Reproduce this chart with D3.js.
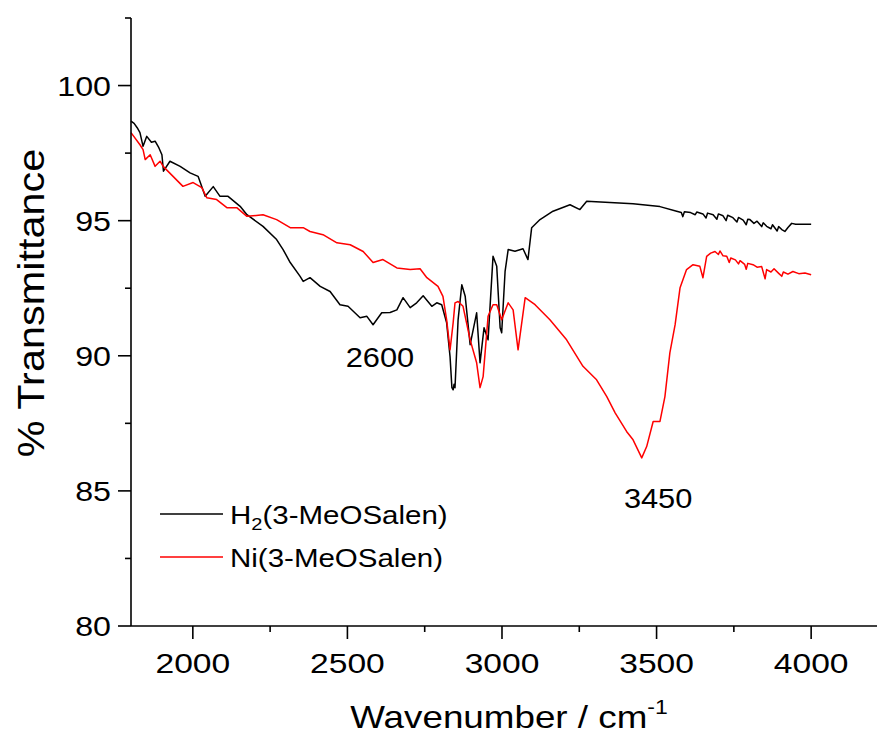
<!DOCTYPE html>
<html>
<head>
<meta charset="utf-8">
<script src="https://cdn.jsdelivr.net/npm/d3@7"></script>
<style>
  html, body { margin: 0; padding: 0; background: #fff; }
  text { font-family: "Liberation Sans", Arial, sans-serif; fill: #000; }
</style>
</head>
<body>
<svg id="chart" width="877" height="733"></svg>
<script>
// ---- data ----
const seriesNames = ["H2(3-MeOSalen)", "Ni(3-MeOSalen)"];
const seriesColors = ["#000000", "#ff0000"];

// H2(3-MeOSalen): [wavenumber, %T]
const h2Data = [
  [1800,98.68],[1810,98.60],[1820,98.44],[1829,98.26],[1839,97.75],[1851,98.12],[1866,97.90],[1878,97.94],
  [1890,97.70],[1900,97.44],[1905,96.83],[1926,97.20],[1959,97.01],[1991,96.77],[2017,96.64],[2040,95.90],
  [2066,96.26],[2088,95.90],[2114,95.90],[2153,95.53],[2175,95.22],[2227,94.79],[2271,94.30],
  [2292,93.93],[2315,93.45],[2347,92.94],[2357,92.75],[2379,92.89],[2412,92.57],[2444,92.38],
  [2476,91.89],[2502,91.83],[2541,91.41],[2563,91.46],[2583,91.15],[2611,91.59],[2638,91.60],
  [2660,91.70],[2680,92.15],[2703,91.78],[2724,91.96],[2745,92.22],[2773,91.83],[2789,91.96],
  [2805,91.89],[2821,91.22],[2832,89.97],[2838,88.82],[2842,88.74],[2845,88.95],[2848,88.82],
  [2858,91.33],[2870,92.63],[2881,92.20],[2897,90.41],[2918,91.59],[2929,89.74],[2942,91.04],
  [2955,90.59],[2971,93.68],[2983,93.31],[2994,91.04],[2999,90.85],[3010,93.12],[3020,93.93],
  [3042,93.87],[3068,93.96],[3084,93.56],[3096,94.74],[3123,95.04],[3165,95.35],[3220,95.59],
  [3252,95.41],[3274,95.72],[3349,95.67],[3424,95.63],[3511,95.52],[3565,95.35],[3580,95.30],
  [3585,95.15],[3590,95.33],[3610,95.30],[3625,95.22],[3630,95.32],[3650,95.25],[3660,95.10],
  [3665,95.28],[3683,95.22],[3695,95.05],[3700,95.25],[3715,95.18],[3725,95.00],[3730,95.20],
  [3747,95.11],[3760,94.95],[3765,95.12],[3780,95.02],[3790,94.85],[3795,95.05],[3802,95.04],
  [3815,94.90],[3825,94.98],[3840,94.78],[3845,94.92],[3856,94.79],[3870,94.70],[3875,94.85],
  [3890,94.62],[3895,94.78],[3905,94.67],[3915,94.60],[3925,94.75],[3937,94.90],[3950,94.87],
  [4000,94.87]
];

// Ni(3-MeOSalen): [wavenumber, %T]
const niData = [
  [1800,98.26],[1829,97.81],[1839,97.63],[1846,97.26],[1862,97.44],[1878,97.01],[1894,97.20],
  [1904,97.01],[1936,96.64],[1968,96.27],[2001,96.41],[2029,96.22],[2045,95.85],[2077,95.78],
  [2110,95.48],[2142,95.48],[2175,95.16],[2227,95.22],[2271,95.04],[2315,94.74],[2357,94.74],
  [2379,94.60],[2421,94.48],[2466,94.18],[2509,94.11],[2551,93.86],[2583,93.45],[2615,93.56],
  [2660,93.25],[2703,93.19],[2735,93.22],[2757,92.89],[2793,92.57],[2809,92.20],[2821,91.33],
  [2832,90.22],[2842,91.22],[2848,91.96],[2858,92.01],[2874,91.83],[2897,90.59],[2918,89.74],
  [2929,88.82],[2939,89.23],[2955,91.46],[2971,91.89],[2983,91.89],[2999,91.33],[3020,91.96],
  [3036,91.70],[3052,90.22],[3075,92.15],[3107,91.89],[3155,91.33],[3209,90.59],[3262,89.61],
  [3306,89.11],[3339,88.49],[3366,87.89],[3403,87.20],[3424,86.89],[3452,86.22],[3468,86.64],
  [3489,87.57],[3511,87.57],[3527,88.49],[3543,90.11],[3560,91.15],[3576,92.52],[3597,93.19],
  [3618,93.37],[3640,93.31],[3650,92.89],[3662,93.68],[3675,93.80],[3689,93.86],[3700,93.75],
  [3705,93.88],[3715,93.70],[3727,93.68],[3735,93.45],[3740,93.62],[3755,93.55],[3765,93.40],
  [3770,93.52],[3785,93.38],[3790,93.20],[3795,93.42],[3812,93.37],[3825,93.28],[3840,93.30],
  [3851,92.85],[3856,93.19],[3870,93.10],[3880,93.22],[3895,93.05],[3905,92.94],[3910,93.10],
  [3925,93.02],[3941,93.12],[3960,93.04],[3980,93.06],[4000,93.00]
];

const xMajorTicks = [2000, 2500, 3000, 3500, 4000];
const xMinorTicks = [2250, 2750, 3250, 3750];
const yMajorTicks = [80, 85, 90, 95, 100];
const yMinorTicks = [82.5, 87.5, 92.5, 97.5, 102.5];
const annotations = [{label: "2600", x: 2605, y: 89.58}, {label: "3450", x: 3505, y: 84.37}];

// ---- layout ----
const svg = d3.select("#chart");
const x = d3.scaleLinear().domain([1800, 4213]).range([131, 877]);
const y = d3.scaleLinear().domain([80, 102.5]).range([626, 18]);

function stretchedText(g, px, py, str, size, sx, anchor) {
  return g.append("g").attr("transform", `translate(${px},${py})`)
    .append("text")
    .attr("transform", `scale(${sx},1)`)
    .attr("text-anchor", anchor || "middle")
    .style("font-size", size + "px")
    .text(str);
}

// lines
const line = d3.line().x(d => x(d[0])).y(d => y(d[1]));
[h2Data, niData].forEach((data, i) => {
  svg.append("path").datum(data)
    .attr("fill", "none")
    .attr("stroke", seriesColors[i])
    .attr("stroke-width", 1.5)
    .attr("stroke-linejoin", "round")
    .attr("d", line);
});

// x axis
const xAxis = svg.append("g");
xAxis.append("line").attr("x1", x(1800)).attr("x2", 877).attr("y1", y(80)).attr("y2", y(80))
  .attr("stroke", "#000").attr("stroke-width", 1.6);
xMajorTicks.forEach(v => {
  xAxis.append("line").attr("x1", x(v)).attr("x2", x(v)).attr("y1", y(80)).attr("y2", y(80) + 13)
    .attr("stroke", "#000").attr("stroke-width", 1.6);
  stretchedText(xAxis, x(v), 673, String(v), 28, 1.2, "middle");
});
xMinorTicks.forEach(v => {
  xAxis.append("line").attr("x1", x(v)).attr("x2", x(v)).attr("y1", y(80)).attr("y2", y(80) + 6)
    .attr("stroke", "#000").attr("stroke-width", 1.6);
});

// y axis
const yAxis = svg.append("g");
yAxis.append("line").attr("x1", x(1800)).attr("x2", x(1800)).attr("y1", y(80)).attr("y2", y(102.5))
  .attr("stroke", "#000").attr("stroke-width", 1.6);
yMajorTicks.forEach(v => {
  yAxis.append("line").attr("x1", x(1800) - 13).attr("x2", x(1800)).attr("y1", y(v)).attr("y2", y(v))
    .attr("stroke", "#000").attr("stroke-width", 1.6);
  stretchedText(yAxis, 111, y(v) + 10, String(v), 28, 1.15, "end");
});
yMinorTicks.forEach(v => {
  yAxis.append("line").attr("x1", x(1800) - 6).attr("x2", x(1800)).attr("y1", y(v)).attr("y2", y(v))
    .attr("stroke", "#000").attr("stroke-width", 1.6);
});

// axis titles
const xt = svg.append("g").attr("transform", "translate(509,728)")
  .append("text").attr("transform", "scale(1.15,1)").attr("text-anchor", "middle")
  .style("font-size", "32px");
xt.append("tspan").text("Wavenumber / cm");
xt.append("tspan").attr("dy", -14).style("font-size", "20px").text("-1");

svg.append("g").attr("transform", "translate(44,303) rotate(-90)")
  .append("text").attr("transform", "scale(1.12,1)").attr("text-anchor", "middle")
  .style("font-size", "37px").text("% Transmittance");

// annotations
annotations.forEach(a => {
  stretchedText(svg, x(a.x), y(a.y), a.label, 28, 1.1, "middle");
});

// legend
const legY = [514, 557];
seriesNames.forEach((name, i) => {
  svg.append("line").attr("x1", 160).attr("x2", 223).attr("y1", legY[i]).attr("y2", legY[i])
    .attr("stroke", seriesColors[i]).attr("stroke-width", 1.6);
  const t = svg.append("g").attr("transform", `translate(230,${legY[i] + 10})`)
    .append("text").attr("transform", "scale(1.18,1)").style("font-size", "25px");
  if (i === 0) {
    t.append("tspan").text("H");
    t.append("tspan").attr("dy", 6).style("font-size", "17px").text("2");
    t.append("tspan").attr("dy", -6).text("(3-MeOSalen)");
  } else {
    t.text(name);
  }
});
</script>
</body>
</html>
